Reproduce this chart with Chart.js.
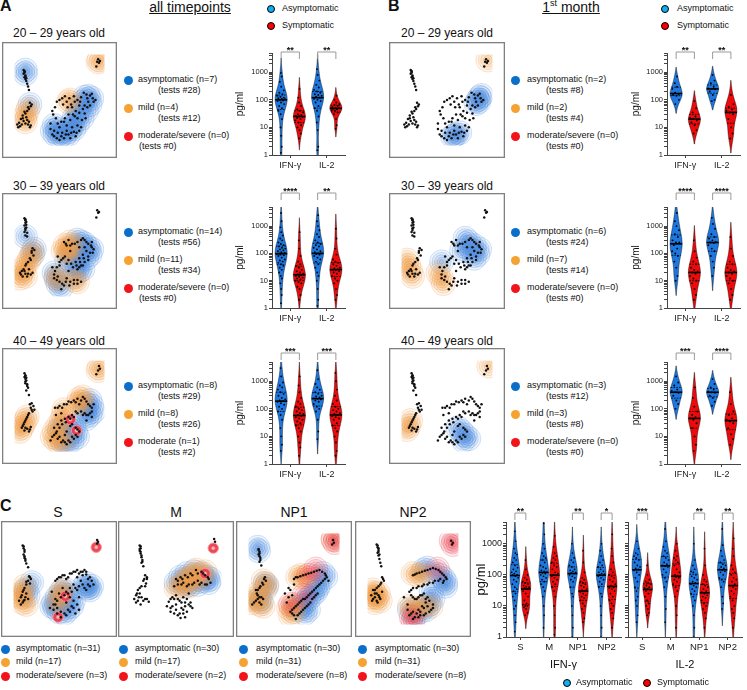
<!DOCTYPE html>
<html><head><meta charset="utf-8">
<script src="https://cdn.jsdelivr.net/npm/chart.js@4.4.0/dist/chart.umd.min.js"></script>
<style>
body{margin:0;background:#fff;}
#root{position:relative;width:747px;height:690px;overflow:hidden;font-family:"Liberation Sans",Arial,sans-serif;color:#111;background:#fff;}
canvas{position:absolute;}
.t{position:absolute;white-space:nowrap;line-height:1;}
.dot{position:absolute;border-radius:50%;box-sizing:border-box;}
sup{font-size:9px;vertical-align:6px;line-height:0;}
</style></head><body><div id="root"></div>
<script>
// ---------------- DATA ----------------
const ageGroups=["20 – 29 years old","30 – 39 years old","40 – 49 years old"];
const cytokines=["IFN-γ","IL-2"];
const antigens=["S","M","NP1","NP2"];

const legendA=[["asymptomatic (n=7)","(tests #28)","mild (n=4)","(tests #12)","moderate/severe (n=0)","(tests #0)"],
 ["asymptomatic (n=14)","(tests #56)","mild (n=11)","(tests #34)","moderate/severe (n=0)","(tests #0)"],
 ["asymptomatic (n=8)","(tests #29)","mild (n=8)","(tests #26)","moderate (n=1)","(tests #2)"]];
const legendB=[["asymptomatic (n=2)","(tests #8)","mild (n=2)","(tests #4)","moderate/severe (n=0)","(tests #0)"],
 ["asymptomatic (n=6)","(tests #24)","mild (n=7)","(tests #14)","moderate/severe (n=0)","(tests #0)"],
 ["asymptomatic (n=3)","(tests #12)","mild (n=3)","(tests #8)","moderate/severe (n=0)","(tests #0)"]];
const legendC=[["asymptomatic (n=31)","mild (n=17)","moderate/severe (n=3)"],
 ["asymptomatic (n=30)","mild (n=17)","moderate/severe (n=2)"],
 ["asymptomatic (n=30)","mild (n=31)","moderate/severe (n=8)"],
 ["asymptomatic (n=30)","mild (n=31)","moderate/severe (n=8)"]];

const starsA=[["**","**"],["****","**"],["***","***"]];
const starsB=[["**","**"],["****","****"],["***","****"]];
const starsC_IFN=["**","","**","*"];
const starsC_IL2=["***","","**","**"];

// t-SNE embeddings (x, y-from-top; 0..100)
const E20=[[93,5],[95,7],[94,9],[92,8],[91,13],
[10,17],[11,19],[10,21],[12,23],[11,25],[12,27],[13,29],[14,32],[15,35],[16,39],[11,18],[12,24],[13,26],[11,20],
[17,53],[19,55],[18,57],[16,60],[14,62],[12,65],[9,67],[13,69],[7,71],[10,73],[5,75],[8,77],[12,76],[15,77],[18,78],[4,80],[6,79],[16,74],[15,58],[11,63],[9,70],[14,72],[17,80],[3,77],
[50,50],[53,48],[56,46],[58,52],[61,48],[66,46],[70,50],[74,47],[77,42],[80,44],[84,45],[87,48],[82,52],[78,56],[72,56],[68,62],[65,66],[70,70],[75,72],[78,65],[62,72],[58,78],[55,74],[50,80],[46,70],[42,62],[45,58],[48,86],[52,90],[55,92],[60,88],[66,85],[64,80],[70,78],[42,88],[40,82],[44,84],[58,84],[62,92],[50,94],[68,90],[72,84],[84,56],[88,52],
[47,52],[54,55],[63,55],[67,52],[73,52],[81,48],[86,43],[90,50],[76,60],[72,64],[67,68],[60,66],[56,70],[52,74],[48,76],[44,90],[47,92],[53,86],[57,88],[63,86],[69,86],[74,80],[79,70],[81,58],[40,76],[43,66],[59,58],[64,58]];
const E30=[[92,5],[93,8],[94,7],[91,13],
[11,14],[12,16],[12,19],[13,21],[11,22],[13,24],[12,27],[14,30],[14,34],[12,33],[12,15],[13,18],[12,25],[11,29],
[20,47],[22,49],[19,52],[21,55],[18,60],[15,62],[12,66],[10,70],[8,72],[12,75],[14,78],[9,78],[18,76],[20,74],[6,74],[16,70],[19,50],[17,58],[13,64],[11,72],[15,75],[7,76],
[55,40],[58,44],[60,38],[64,42],[70,40],[72,46],[76,36],[80,40],[85,44],[88,48],[84,52],[80,50],[76,54],[72,58],[68,62],[65,68],[70,70],[74,66],[78,62],[82,60],[60,60],[56,56],[52,60],[50,66],[45,72],[48,78],[44,80],[50,84],[55,88],[52,92],[58,80],[62,84],[66,86],[70,82],[60,72],[42,68],[86,40],[78,46],[62,50],[48,56],
[57,42],[62,44],[67,42],[74,38],[78,38],[82,42],[86,46],[87,52],[82,56],[77,58],[73,62],[69,66],[72,68],[76,66],[63,64],[58,64],[54,58],[50,62],[47,68],[44,76],[47,82],[53,86],[57,84],[61,88],[66,82],[70,86],[74,84]];
const E40=[[94,6],[95,9],[93,11],[91,15],
[11,14],[12,17],[12,20],[13,22],[12,25],[14,28],[15,30],[13,33],[16,38],[11,18],[12,16],[13,19],[12,23],[14,26],
[19,47],[21,50],[18,52],[20,56],[16,58],[14,62],[12,66],[10,70],[8,74],[14,75],[16,78],[18,73],[11,77],[22,54],[17,48],[19,54],[15,60],[13,64],[11,68],[9,72],[12,74],[17,76],
[45,52],[50,50],[55,48],[60,45],[66,44],[70,42],[72,48],[76,40],[80,45],[84,50],[88,48],[86,56],[82,60],[78,58],[74,56],[68,56],[64,60],[60,62],[56,64],[52,66],[48,70],[44,74],[46,80],[50,84],[54,88],[58,92],[62,90],[66,86],[70,84],[72,78],[68,74],[62,72],[58,78],[42,84],[40,88],[46,60],[52,58],[86,62],[80,66],[56,82],
[48,52],[53,52],[58,48],[63,46],[68,46],[74,44],[78,42],[82,48],[86,52],[84,58],[80,60],[76,60],[70,58],[66,62],[62,64],[57,68],[53,70],[50,74],[47,78],[44,82],[48,86],[52,90],[56,90],[60,88],[64,84],[68,82],[70,76],[64,70]];
const ES=[[92,7],[93,9],[92,11],
[10,13],[11,16],[12,20],[11,23],[12,27],[13,30],[14,33],[16,37],[11,14],[12,18],[12,25],[13,28],
[17,47],[19,50],[14,53],[18,55],[12,60],[10,64],[14,66],[8,70],[12,73],[16,72],[10,76],[6,74],[18,48],[16,52],[14,56],[11,62],[9,68],[13,70],[11,74],[8,78],
[50,48],[54,46],[58,50],[62,44],[66,42],[70,40],[74,42],[78,40],[80,45],[84,48],[86,52],[82,56],[78,60],[74,52],[70,48],[66,56],[62,60],[58,64],[54,60],[50,66],[46,72],[44,78],[48,82],[52,86],[56,88],[60,84],[64,80],[66,74],[62,70],[58,76],[42,64],[40,82],[70,62],[68,88],[72,84],[46,52],[76,46],
[48,50],[52,48],[56,46],[60,48],[64,44],[68,42],[72,44],[76,42],[80,42],[82,50],[88,56],[84,58],[80,62],[76,56],[72,58],[68,60],[64,64],[60,66],[56,68],[52,70],[48,74],[46,78],[44,84],[48,88],[52,92],[58,90],[62,86],[66,82],[70,78],[72,70]];
const EM=[[92,6],[93,9],
[10,13],[11,16],[10,19],[11,22],[12,26],[13,29],[12,32],[14,36],[11,14],[10,17],[11,20],[12,24],[13,31],
[16,46],[18,50],[14,52],[17,55],[12,58],[8,62],[10,66],[6,68],[12,70],[4,72],[16,72],[20,75],[8,74],[18,48],[15,50],[16,58],[10,60],[7,66],[9,70],[14,74],[18,72],[6,76],[11,78],
[50,50],[55,48],[60,46],[66,44],[72,40],[78,42],[82,46],[86,50],[84,56],[78,54],[74,52],[68,56],[62,58],[56,56],[48,58],
[52,52],[57,50],[63,48],[68,46],[74,44],[80,44],[85,48],[88,54],[82,56],[76,56],[70,54],[64,56],[58,54],[52,56],
[42,75],[46,70],[50,68],[54,74],[58,70],[62,72],[66,76],[60,80],[56,82],[50,84],[46,80],[52,90],[55,93],[62,86],[68,82],[44,86],[58,88],[64,66],[40,80],
[44,72],[48,72],[52,72],[56,76],[60,76],[64,78],[58,84],[54,88],[48,88],[44,82],[50,78],[60,92],[66,80]];
const ENP1=[[93,7],[94,10],[92,12],
[11,17],[12,20],[11,23],[13,27],[12,31],[14,35],[11,18],[12,22],[12,25],[13,29],
[18,48],[19,52],[16,56],[12,60],[8,62],[10,68],[14,70],[8,74],[12,76],[16,72],[4,78],[17,50],[15,54],[13,58],[10,62],[9,66],[12,70],[10,72],[6,76],[14,78],
[50,50],[54,48],[60,46],[66,44],[72,42],[78,40],[84,44],[86,48],[82,52],[78,56],[74,60],[70,64],[66,68],[62,72],[58,74],[54,78],[50,82],[46,86],[50,90],[52,94],[56,88],[60,84],[64,80],[68,76],[72,70],[76,66],[44,60],[48,68],[42,76],[88,52],[40,66],
[52,48],[57,47],[63,45],[69,43],[75,41],[81,42],[85,46],[84,50],[80,54],[76,58],[72,62],[68,66],[64,70],[60,72],[56,76],[52,80],[48,84],[48,88],[54,90],[58,86],[62,82],[66,78],[70,72],[74,68],[46,62],[44,70],[50,56]];
const ENP2=[[92,8],[94,10],[93,12],
[10,12],[11,15],[12,18],[11,21],[12,24],[13,28],[14,32],[15,36],[11,13],[12,16],[12,20],[13,23],
[16,48],[18,52],[14,56],[10,60],[6,62],[8,66],[12,68],[16,64],[6,72],[10,74],[14,72],[4,68],[17,50],[15,54],[12,58],[8,62],[10,66],[13,70],[8,70],[5,74],[11,76],
[50,46],[54,44],[60,42],[66,40],[72,38],[78,40],[82,44],[86,48],[84,52],[80,50],[74,52],[68,54],[62,56],[56,58],[50,60],[46,64],[50,70],[54,72],[58,68],[62,66],[66,70],[64,76],[60,80],[56,84],[50,86],[46,90],[52,92],[58,90],[64,88],[70,84],[72,78],[44,78],[40,70],
[52,45],[57,43],[63,41],[69,39],[75,39],[80,42],[84,46],[87,50],[83,54],[78,52],[72,54],[66,56],[60,58],[54,60],[48,62],[48,68],[52,72],[56,70],[60,68],[64,72],[68,74],[66,80],[62,82],[58,86],[54,88],[48,88],[44,84],[50,94],[56,92],[62,90],[68,86],[72,82]];

// group membership points per panel
const A20_asym=[[12,17],[12,21],[17,55],[42,84],[45,88],[50,90],[55,90],[60,88],[62,82],[64,76],[66,70],[70,64],[73,58],[76,52],[78,47],[82,46],[86,48],[84,55],[80,62],[75,70],[70,76],[66,82],[56,84],[48,82],[44,78]];
const A20_mild=[[94,6],[93,8],[15,60],[13,65],[11,70],[12,74],[60,52],[62,50]];
const A30_asym=[[12,34],[70,38],[74,40],[78,42],[82,46],[86,48],[84,54],[80,58],[76,50],[72,56],[70,66],[72,72],[76,70],[66,64],[58,60],[62,52],[48,86],[46,80],[52,90],[44,74],[20,54],[22,48],[66,78]];
const A30_mild=[[20,50],[18,56],[16,60],[12,66],[10,70],[8,74],[12,78],[6,80],[56,44],[58,48],[60,54],[54,50],[46,78],[48,82],[66,82],[70,84],[62,40],[65,44]];
const A40_asym=[[84,44],[86,50],[88,56],[84,60],[80,64],[78,56],[80,48],[66,72],[68,78],[70,84],[64,88],[58,92],[54,90],[62,80],[56,72],[50,76]];
const A40_mild=[[72,42],[74,46],[76,40],[70,48],[55,54],[54,60],[52,66],[48,72],[44,78],[42,84],[46,88],[50,90],[56,86],[10,70],[12,66],[8,74],[14,62],[6,78],[94,8],[93,11]];
const A40_mod=[[62,65],[69,77]];
const B20_asym=[[84,50],[86,47],[88,45],[82,54],[85,52],[56,90],[60,88],[64,86],[58,89]];
const B20_mild=[[95,6]];
const B30_asym=[[44,62],[70,36],[74,40],[80,44],[86,48],[84,54],[78,50],[72,46],[80,58],[66,50]];
const B30_mild=[[6,60],[8,66],[10,72],[12,78],[40,74],[44,80],[46,86]];
const B40_asym=[[62,74],[66,78],[70,82],[74,86],[68,88]];
const B40_mild=[[8,72],[10,66],[6,76],[96,6]];
const S_asym=[[80,55],[82,60],[78,58],[84,62],[86,58],[44,76],[46,82],[50,86],[56,88],[60,84],[64,80],[66,74],[62,68],[58,62],[52,64],[48,70],[42,80],[20,54],[14,62],[16,68]];
const S_mild=[[12,58],[10,64],[8,70],[10,76],[14,78],[6,68],[52,66],[50,72],[54,62],[48,78]];
const S_mod=[[91,15],[57,69],[49,92]];
const M_asym=[[55,48],[62,44],[70,42],[78,44],[84,48],[86,54],[80,52],[74,56],[66,56],[60,58],[50,54],[88,50]];
const M_mild=[[58,52],[62,50],[66,48],[70,46],[72,40],[76,50],[64,58],[56,58],[50,60],[82,42],[78,46]];
const M_mod=[[91,16],[82,44]];
const NP1_asym=[[10,15],[11,19],[18,55],[20,58],[12,72],[14,75],[82,44],[85,48],[78,56],[76,60],[74,64],[70,68],[66,72],[62,76],[58,80],[54,84],[62,88],[66,84]];
const NP1_mild=[[16,52],[20,56],[18,62],[10,66],[6,72],[4,76],[12,78],[16,80],[50,86],[46,90],[44,82],[50,78],[54,48],[58,46],[62,48],[93,7]];
const NP1_mod=[[93,6],[95,10],[66,46],[74,39],[61,68],[46,78]];
const NP2_asym=[[84,50],[86,54],[80,46],[70,64],[72,72],[68,78],[64,84],[58,86],[52,90],[46,84],[62,40],[66,38],[86,58]];
const NP2_mild=[[6,62],[8,66],[10,70],[4,70],[12,66],[14,74],[8,76],[50,44],[56,46],[60,44],[46,80],[50,84],[56,82],[62,80],[70,80]];
const NP2_mod=[[92,8],[94,12],[48,92],[50,96],[77,39]];

// cytokine values (pg/ml) — A: all timepoints
const A20_IFN_asym=[950,700,450,300,220,180,160,140,130,120,115,110,105,100,95,90,80,70,60,50,40,30,20,10,5,2,1.2];
const A20_IFN_symp=[250,120,80,60,45,40,35,30,28,26,25,24,22,20,18,15,12,10,8,6,4];
const A20_IL2_asym=[1300,800,500,350,280,230,200,180,160,150,140,130,120,110,100,90,80,60,50,40,25,15,8,2,1.5];
const A20_IL2_symp=[140,100,80,70,65,60,55,52,50,48,45,42,40,35,30,20,12,9];
const A30_IFN_asym=[3000,1500,900,600,450,350,300,250,220,200,180,160,150,140,130,120,110,105,100,100,95,90,85,80,70,60,55,50,45,40,35,30,25,20,15,12,8,5,3,1.5];
const A30_IFN_symp=[600,300,150,80,50,40,35,30,25,22,20,18,17,16,15,14,13,12,11,10,9,8,6,5,3,2];
const A30_IL2_asym=[2500,1500,1000,700,500,400,300,250,220,200,180,160,140,120,110,100,100,95,90,80,70,60,50,40,30,20,15,10,5,2,1.2];
const A30_IL2_symp=[800,350,150,90,60,50,45,40,35,30,28,26,25,24,22,20,18,15,12,10,8,5,3,2];
const A40_IFN_asym=[3000,1500,900,700,600,500,400,350,300,250,220,200,190,180,160,140,120,100,80,60,40,20,10,5,3];
const A40_IFN_symp=[1500,700,400,250,180,150,120,100,90,80,70,65,60,55,50,45,40,35,30,25,20,15,10,6,4,2];
const A40_IL2_asym=[2500,1200,800,600,500,400,350,300,280,260,240,230,220,200,180,150,120,100,80,40,15,8];
const A40_IL2_symp=[2000,1000,500,300,200,150,120,100,90,80,70,65,60,55,50,45,40,30,25,20,15,10,6,3,2];
// B: 1st month
const B20_IFN_asym=[700,400,300,250,180,160,150,140,100,70];
const B20_IFN_symp=[90,50,35,25,22,20,18,15,12,8,6];
const B20_IL2_asym=[800,500,400,300,260,250,240,200,150,100,90];
const B20_IL2_symp=[150,70,55,45,40,35,30,20,10,6,4];
const B30_IFN_asym=[3000,1500,1000,700,500,400,300,250,250,200,150,120,100,80,50,30,15,10];
const B30_IFN_symp=[300,120,70,50,40,30,25,22,20,18,15,12,10,8,5,3,2];
const B30_IL2_asym=[2000,1200,800,500,400,350,300,260,250,240,200,150,120,80,50,30,15];
const B30_IL2_symp=[400,150,80,50,40,30,25,22,20,18,15,12,10,8,5,3,2];
const B40_IFN_asym=[1500,900,700,500,450,400,380,300,200,150,100];
const B40_IFN_symp=[600,250,120,80,60,50,45,40,30,20,10,5,3];
const B40_IL2_asym=[1200,800,600,500,420,400,380,300,250,180,130];
const B40_IL2_symp=[400,150,80,60,45,40,35,30,20,12,8,5];
// C: per antigen
const C_IFN_S_asym=[2500,1200,700,500,450,350,300,250,200,170,150,130,120,110,100,100,90,80,70,60,50,40,35,30,25,20,15,10,8,5,3,1.5];
const C_IFN_S_symp=[300,150,100,80,70,60,55,50,45,42,40,38,35,30,25,20,15,12,11,10,10,9,8,6,5];
const C_IFN_M_asym=[4500,2000,1000,700,500,400,350,300,250,200,180,160,140,130,120,115,110,100,90,80,70,60,50,40,30,20,10,5,2];
const C_IFN_M_symp=[1800,800,500,400,350,300,250,200,180,150,120,110,100,95,90,80,70,60,50,40,30,20,10,5,2,1.2];
const C_IFN_NP1_asym=[1000,500,350,300,250,200,180,150,140,130,120,115,110,100,90,80,70,60,40,25,20,10,5,2,1];
const C_IFN_NP1_symp=[600,250,120,80,70,60,55,50,45,40,35,32,30,28,25,22,20,18,15,12,10,8,6,4,3];
const C_IFN_NP2_asym=[1000,600,400,300,250,200,180,150,130,120,110,105,100,95,90,80,70,60,50,40,25,20,10,5,2,1];
const C_IFN_NP2_symp=[2000,700,400,250,150,120,100,90,80,70,60,50,45,40,38,35,30,25,20,15,12,10,8,6,4,2];
const C_IL2_S_asym=[1200,700,500,450,400,350,300,250,200,180,160,150,140,120,100,80,60,40,30,20,15,10,5,3];
const C_IL2_S_symp=[200,100,70,60,55,50,45,40,38,35,33,30,25,20,15,12,10,8,6,5];
const C_IL2_M_asym=[3000,1200,800,600,500,400,350,300,250,220,200,190,180,150,120,100,80,60,40,20,8,3];
const C_IL2_M_symp=[1000,600,400,350,300,250,200,150,120,100,95,90,85,80,70,60,50,40,30,20,10,5,2];
const C_IL2_NP1_asym=[1000,300,200,150,130,120,100,90,80,70,60,55,50,45,40,35,30,25,20,15,10,5,2,1];
const C_IL2_NP1_symp=[700,200,100,70,60,50,45,40,35,30,28,25,22,20,18,15,12,10,8,6,4,2];
const C_IL2_NP2_asym=[3000,900,600,400,300,250,220,200,180,160,150,140,130,120,100,80,70,60,40,20,12,8];
const C_IL2_NP2_symp=[1500,700,400,200,150,120,100,80,70,60,50,45,40,35,30,25,20,15,10,8,6,4,2];

// ---------------- DRAWING ----------------
Chart.defaults.font.family='"Liberation Sans", Arial, sans-serif';
Chart.defaults.color='#222';
const root=document.getElementById('root');
const COL={blue:[78,140,222],orange:[240,155,72],red:[232,62,78]};
const LEG={blue:'#0b6fc9',orange:'#f6a233',red:'#f2141b'};
const VBLUE='#1c78e0', VRED='#ee0a0a';
const rgba=(c,a)=>`rgba(${c[0]},${c[1]},${c[2]},${a})`;

function txt(x,yc,s,size,o={}){
  const d=document.createElement('div'); d.className='t';
  d.style.fontSize=size+'px'; d.style.top=(yc-0.56*size)+'px'; d.style.left=x+'px';
  if(o.c) d.style.transform='translateX(-50%)';
  if(o.b) d.style.fontWeight='bold';
  if(o.u) d.style.textDecoration='underline';
  if(o.html) d.innerHTML=s; else d.textContent=s;
  root.appendChild(d);
}
function dot(x,yc,r,fill,stroke){
  const d=document.createElement('div'); d.className='dot';
  d.style.left=(x-r)+'px'; d.style.top=(yc-r)+'px'; d.style.width=(2*r)+'px'; d.style.height=(2*r)+'px';
  d.style.background=fill; if(stroke) d.style.border='1px solid '+stroke;
  root.appendChild(d);
}
function mkCanvas(l,t,w,h){
  const c=document.createElement('canvas'); c.width=w; c.height=h;
  c.style.left=l+'px'; c.style.top=t+'px'; c.style.width=w+'px'; c.style.height=h+'px';
  root.appendChild(c); return c;
}
const toXY=a=>a.map(p=>({x:p[0],y:p[1]}));

function tsne(l,t,w,h,dots,groups){
  const c=mkCanvas(l,t,w,h);
  const ds=[];
  for(const g of groups){
    const col=COL[g.c];
    if(g.spot){
      ds.push({data:toXY(g.pts),pointRadius:5.2,backgroundColor:rgba(col,0.95),borderColor:'rgba(255,150,150,0.9)',borderWidth:1});
      ds.push({data:toXY(g.pts),pointRadius:2.2,backgroundColor:'rgba(255,190,190,0.9)',borderColor:rgba(col,1),borderWidth:0.7});
    } else {
      for(const [r,fa,la] of [[12,0.09,0.42],[9.5,0.1,0.46],[7,0.1,0.5],[4.5,0.12,0.55],[2.2,0.14,0.6]])
        ds.push({data:toXY(g.pts),pointRadius:r,backgroundColor:rgba(col,fa),borderColor:rgba(col,la),borderWidth:0.6});
    }
  }
  ds.push({data:toXY(dots),pointRadius:1.25,backgroundColor:'#111',borderWidth:0});
  ds.reverse();
  new Chart(c,{type:'scatter',data:{datasets:ds},
    options:{responsive:false,animation:false,events:[],layout:{padding:0},
      scales:{x:{type:'linear',min:0,max:100,display:false},y:{type:'linear',min:0,max:100,reverse:true,display:false}},
      plugins:{legend:{display:false},tooltip:{enabled:false}}},
    plugins:[{id:'frame',afterDraw(ch){const x=ch.ctx;x.save();x.strokeStyle='#808080';x.lineWidth=1.3;x.strokeRect(0.65,0.65,w-1.3,h-1.3);x.restore();}}]});
}

function quant(L,p){const i=(L.length-1)*p,a=Math.floor(i),b=Math.ceil(i);return L[a]+(L[b]-L[a])*(i-a);}
function kde(vals){
  const L=vals.map(v=>Math.log10(v)).sort((a,b)=>a-b),n=L.length;
  const m=L.reduce((s,v)=>s+v,0)/n, sd=Math.sqrt(L.reduce((s,v)=>s+(v-m)*(v-m),0)/(n-1));
  const bw=Math.min(0.3,Math.max(0.1,1.0*sd*Math.pow(n,-0.2)));
  const raw=t=>{let d=0;for(const l of L){const z=(t-l)/bw;d+=Math.exp(-0.5*z*z);}return d;};
  const lo=L[0]-1.8*bw, hi=L[n-1]+1.8*bw, N=100; const g=[]; let mx=0;
  for(let i=0;i<=N;i++){const t=lo+(hi-lo)*i/N,d=raw(t);g.push([t,d]);if(d>mx)mx=d;}
  return {L,grid:g.map(([t,d])=>[t,d/mx]),dens:t=>raw(t)/mx,med:quant(L,0.5),q1:quant(L,0.25),q3:quant(L,0.75)};
}
const logTicks=[];
for(let e=0;e<4;e++)for(let k=1;k<10;k++){const v=k*Math.pow(10,e);if(v<=5000)logTicks.push(v);}

function violin(o){
  const padT=28,padR=2;
  const c=mkCanvas(o.left-o.yW,o.top-padT,o.yW+o.w+padR,padT+o.h+o.xH);
  const viol=[],pts=[];
  o.groups.forEach((pair,i)=>pair.forEach((vals,g)=>{
    const k=kde(vals),cx=i+(g?o.off:-o.off);
    viol.push({k,cx,g});
    k.L.forEach((l,j)=>{const f=((j*0.618034+0.3)%1)*2-1;pts.push({x:cx+f*k.dens(l)*o.half*0.75,y:Math.pow(10,l)});});
  }));
  const plug={id:'vio',
    beforeDatasetsDraw(ch){
      const {ctx,chartArea:a,scales:{x,y}}=ch; ctx.save(); ctx.beginPath(); ctx.rect(a.left,a.top,a.right-a.left,a.bottom-a.top); ctx.clip();
      for(const v of viol){
        const xc=x.getPixelForValue(v.cx), hw=x.getPixelForValue(v.cx+o.half)-xc, G=v.k.grid;
        ctx.beginPath();
        G.forEach(([t,d],i)=>{const py=y.getPixelForValue(Math.pow(10,t)),px=xc+d*hw;i?ctx.lineTo(px,py):ctx.moveTo(px,py);});
        for(let i=G.length-1;i>=0;i--){const [t,d]=G[i];ctx.lineTo(xc-d*hw,y.getPixelForValue(Math.pow(10,t)));}
        ctx.closePath(); ctx.fillStyle=v.g?VRED:VBLUE; ctx.fill();
        ctx.lineWidth=0.6; ctx.strokeStyle='rgba(0,0,0,0.7)'; ctx.stroke();
      }
      ctx.restore();
    },
    afterDatasetsDraw(ch){
      const {ctx,scales:{x,y}}=ch; ctx.save(); ctx.strokeStyle='#000';
      for(const v of viol){
        const xc=x.getPixelForValue(v.cx), hw=x.getPixelForValue(v.cx+o.half)-xc;
        const line=(t,lw,dash)=>{const py=y.getPixelForValue(Math.pow(10,t)),d=v.k.dens(t)*hw;ctx.setLineDash(dash);ctx.lineWidth=lw;ctx.beginPath();ctx.moveTo(xc-d,py);ctx.lineTo(xc+d,py);ctx.stroke();};
        line(v.k.q1,0.8,[1.6,1.2]); line(v.k.q3,0.8,[1.6,1.2]); line(v.k.med,1.6,[]);
      }
      ctx.restore();
    },
    afterDraw(ch){
      const {ctx,chartArea:a,scales:{x}}=ch; ctx.save();
      o.stars.forEach((s,i)=>{ if(!s) return;
        const x1=x.getPixelForValue(i-o.off),x2=x.getPixelForValue(i+o.off),yt=a.top+o.bOff;
        ctx.strokeStyle='#9a9a9a'; ctx.lineWidth=1; ctx.beginPath();
        ctx.moveTo(x1,yt+7); ctx.lineTo(x1,yt); ctx.lineTo(x2,yt); ctx.lineTo(x2,yt+7); ctx.stroke();
        ctx.fillStyle='#111'; ctx.font='bold 9px "Liberation Sans", Arial, sans-serif'; ctx.textAlign='center'; ctx.textBaseline='alphabetic';
        ctx.fillText(s,(x1+x2)/2,yt+1);
      });
      ctx.restore();
    }};
  new Chart(c,{type:'scatter',data:{datasets:[{data:pts,pointRadius:o.pr||0.95,backgroundColor:'#000',borderWidth:0}]},
    options:{responsive:false,animation:false,events:[],layout:{padding:{top:padT,right:padR,left:0,bottom:0}},
      plugins:{legend:{display:false},tooltip:{enabled:false}},
      scales:{
        x:{type:'linear',min:-0.5,max:o.cats.length-0.5,
          afterBuildTicks:s=>{s.ticks=o.cats.map((c,i)=>({value:i}));},
          afterFit:s=>{s.height=o.xH;},
          ticks:{callback:v=>o.cats[v],font:{size:o.cf},color:'#222',padding:2,autoSkip:false,maxRotation:0},
          grid:{drawOnChartArea:false,drawTicks:true,tickLength:3,color:'#444'},
          border:{display:true,color:'#444',width:1},
          title:o.xTitle?{display:true,text:o.xTitle,font:{size:11},color:'#111',padding:{top:0,bottom:0}}:{display:false}},
        y:{type:'logarithmic',min:1,max:5000,
          afterBuildTicks:s=>{s.ticks=logTicks.map(v=>({value:v,major:[1,10,100,1000].includes(v)}));},
          afterFit:s=>{s.width=o.yW;},
          ticks:{display:o.showY,callback:v=>[1,10,100,1000].includes(v)?String(v):'',font:{size:o.tf},color:'#222',padding:1,autoSkip:false},
          grid:{drawOnChartArea:false,drawTicks:true,tickLength:3,color:'#444'},
          border:{display:true,color:'#444',width:1},
          title:o.yTitle?{display:true,text:o.yTitle,font:{size:o.yts},color:'#111',padding:{top:0,bottom:0}}:{display:false}}
      }},
    plugins:[plug]});
}

// ---- header ----
txt(0,7,'A',16,{b:true});
txt(190,8,'all timepoints',14,{c:true,u:true});
dot(271,9,4,'#12aef0','#000'); txt(282,9,'Asymptomatic',9);
dot(271,26,4,'#f00','#000'); txt(282,26,'Symptomatic',9);
txt(388,7,'B',16,{b:true});
txt(571,8,'1<sup>st</sup> month',14,{c:true,u:true,html:true});
dot(665,9,4,'#12aef0','#000'); txt(677,9,'Asymptomatic',9);
dot(665,26,4,'#f00','#000'); txt(677,26,'Symptomatic',9);

// ---- panels A & B ----
const rowBoxTop=[42,193,348], rowTitleY=[34,187,342], rowLegY=[80,232,386];
const vTop=[53,207,362], vH=[102,101,102], brOff=[-1,-14,-9];
const dotsRows=[E20,E30,E40];
const grpA=[[{c:'blue',pts:A20_asym},{c:'orange',pts:A20_mild}],
            [{c:'blue',pts:A30_asym},{c:'orange',pts:A30_mild}],
            [{c:'blue',pts:A40_asym},{c:'orange',pts:A40_mild},{c:'red',pts:A40_mod,spot:true}]];
const grpB=[[{c:'blue',pts:B20_asym},{c:'orange',pts:B20_mild}],
            [{c:'blue',pts:B30_asym},{c:'orange',pts:B30_mild}],
            [{c:'blue',pts:B40_asym},{c:'orange',pts:B40_mild}]];
const violA=[[[A20_IFN_asym,A20_IFN_symp],[A20_IL2_asym,A20_IL2_symp]],
             [[A30_IFN_asym,A30_IFN_symp],[A30_IL2_asym,A30_IL2_symp]],
             [[A40_IFN_asym,A40_IFN_symp],[A40_IL2_asym,A40_IL2_symp]]];
const violB=[[[B20_IFN_asym,B20_IFN_symp],[B20_IL2_asym,B20_IL2_symp]],
             [[B30_IFN_asym,B30_IFN_symp],[B30_IL2_asym,B30_IL2_symp]],
             [[B40_IFN_asym,B40_IFN_symp],[B40_IL2_asym,B40_IL2_symp]]];
const line2A=[[158,158,139],[158,158,139],[158,158,158]];
const legCols=['blue','orange','red'];

for(let r=0;r<3;r++){
  // A
  txt(59,rowTitleY[r],ageGroups[r],12,{c:true});
  tsne(2,rowBoxTop[r],115,116,dotsRows[r],grpA[r]);
  for(let k=0;k<3;k++){
    const y=rowLegY[r]+k*28.2;
    dot(128,y,4.5,LEG[legCols[k]]); txt(138,y,legendA[r][2*k],9); txt(line2A[r][k],y+10.7,legendA[r][2*k+1],9);
  }
  violin({left:272,top:vTop[r],w:75,h:vH[r],cats:cytokines,groups:violA[r],stars:starsA[r],bOff:brOff[r],
    yW:38,xH:22,tf:7.5,cf:9,showY:true,yTitle:'pg/ml',yts:10,off:0.25,half:0.165});
  // B
  txt(447,rowTitleY[r],ageGroups[r],12,{c:true});
  tsne(389,rowBoxTop[r],116,116,dotsRows[r],grpB[r]);
  for(let k=0;k<3;k++){
    const y=rowLegY[r]+k*28.2;
    dot(515,y,4.5,LEG[legCols[k]]); txt(527,y,legendB[r][2*k],9); txt(546,y+10.7,legendB[r][2*k+1],9);
  }
  violin({left:667,top:vTop[r],w:75,h:vH[r],cats:cytokines,groups:violB[r],stars:starsB[r],bOff:brOff[r],
    yW:37,xH:22,tf:7.5,cf:9,showY:true,yTitle:'pg/ml',yts:10,off:0.25,half:0.165});
}

// ---- panel C ----
txt(0,507,'C',16,{b:true});
const cLeft=[1,118,236,355], cTitleX=[58,176,294,413], cLegCirc=[5,123,243,362], cLegTxt=[16,135,256,375];
const cDots=[ES,EM,ENP1,ENP2];
const cGrp=[[{c:'blue',pts:S_asym},{c:'orange',pts:S_mild},{c:'red',pts:S_mod,spot:true}],
            [{c:'blue',pts:M_asym},{c:'orange',pts:M_mild},{c:'red',pts:M_mod,spot:true}],
            [{c:'blue',pts:NP1_asym},{c:'orange',pts:NP1_mild},{c:'red',pts:NP1_mod}],
            [{c:'blue',pts:NP2_asym},{c:'orange',pts:NP2_mild},{c:'red',pts:NP2_mod}]];
for(let i=0;i<4;i++){
  txt(cTitleX[i],513,antigens[i],14,{c:true});
  tsne(cLeft[i],521,116,116,cDots[i],cGrp[i]);
  [649,662.5,676.5].forEach((y,k)=>{dot(cLegCirc[i],y,4.5,LEG[legCols[k]]);txt(cLegTxt[i],y,legendC[i][k],9);});
}
violin({left:506,top:522,w:117,h:115,cats:antigens,
  groups:[[C_IFN_S_asym,C_IFN_S_symp],[C_IFN_M_asym,C_IFN_M_symp],[C_IFN_NP1_asym,C_IFN_NP1_symp],[C_IFN_NP2_asym,C_IFN_NP2_symp]],
  stars:starsC_IFN,bOff:-9,yW:32,xH:35,tf:9,cf:9.5,showY:true,yTitle:'pg/ml',yts:13,xTitle:'IFN-γ',off:0.19,half:0.17,pr:0.85});
violin({left:628,top:522,w:116,h:115,cats:antigens,
  groups:[[C_IL2_S_asym,C_IL2_S_symp],[C_IL2_M_asym,C_IL2_M_symp],[C_IL2_NP1_asym,C_IL2_NP1_symp],[C_IL2_NP2_asym,C_IL2_NP2_symp]],
  stars:starsC_IL2,bOff:-9,yW:4,xH:35,tf:9,cf:9.5,showY:false,xTitle:'IL-2',off:0.19,half:0.17,pr:0.85});
dot(567,683,4,'#12aef0','#000'); txt(576,683,'Asymptomatic',9);
dot(647,683,4,'#f00','#000'); txt(657,683,'Symptomatic',9);
</script></body></html>
